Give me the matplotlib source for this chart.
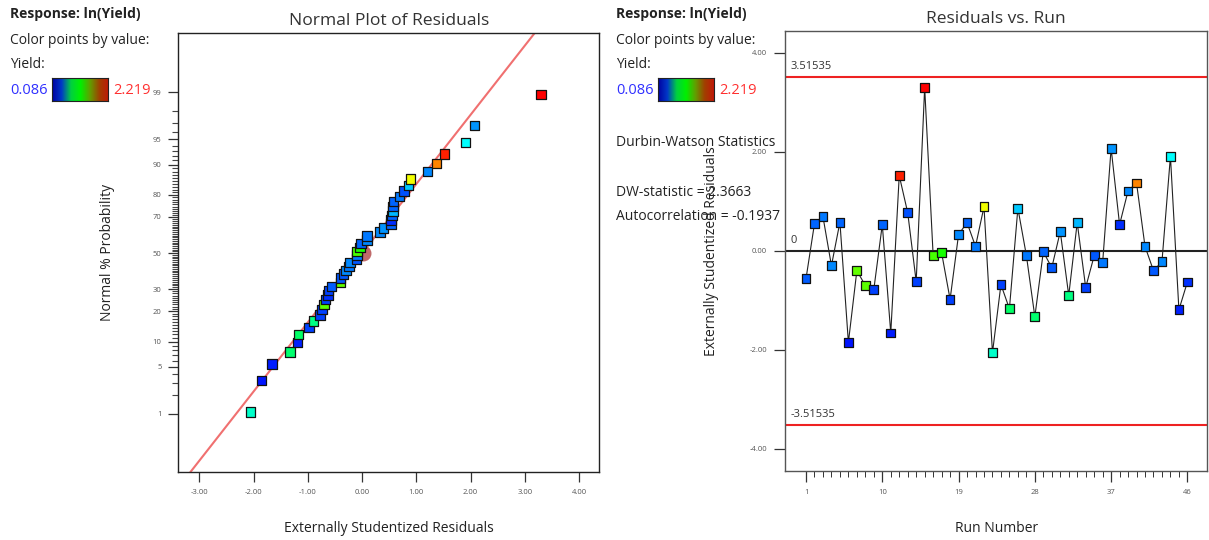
import numpy as np
import matplotlib
matplotlib.use("Agg")
import matplotlib.pyplot as plt
from matplotlib.colors import LinearSegmentedColormap, Normalize
from statistics import NormalDist

plt.rcParams['font.family'] = ['Open Sans', 'DejaVu Sans']

# externally studentized residuals, by run order
runs = np.arange(1, 47)
resid = [-0.56, 0.55, 0.69, -0.30, 0.58, -1.85, -0.40, -0.70, -0.78, 0.53,
         -1.66, 1.52, 0.77, -0.62, 3.30, -0.09, -0.04, -0.98, 0.33, 0.57,
         0.09, 0.89, -2.06, -0.68, -1.17, 0.86, -0.09, -1.33, -0.02, -0.34,
         0.39, -0.90, 0.57, -0.74, -0.10, -0.24, 2.07, 0.53, 1.21, 1.37,
         0.09, -0.40, -0.22, 1.91, -1.19, -0.63]
# yield used to colour the points
yld = [0.28, 0.30, 0.34, 0.37, 0.30, 0.13, 1.36, 1.34, 0.22, 0.30,
       0.15, 2.15, 0.26, 0.22, 2.219, 1.30, 1.20, 0.22, 0.37, 0.30,
       0.34, 1.66, 0.73, 0.22, 0.94, 0.51, 0.34, 0.92, 0.30, 0.27,
       0.40, 0.88, 0.47, 0.22, 0.27, 0.34, 0.40, 0.18, 0.37, 1.94,
       0.37, 0.27, 0.37, 0.62, 0.16, 0.19]
yld_min, yld_max = 0.086, 2.219
limit = 3.51535
dw_stat = 2.3663
autocorr = -0.1937

prob_major = [1, 5, 10, 20, 30, 50, 70, 80, 90, 95, 99]
run_major = [1, 10, 19, 28, 37, 46]
res_ticks = [-3, -2, -1, 0, 1, 2, 3, 4]
run_yticks = [-4, -2, 0, 2, 4]

pt_cmap = LinearSegmentedColormap.from_list(
    'pts', ['#0000ff', '#00ffff', '#00ff00', '#ffff00', '#ff0000'])
bar_cmap = LinearSegmentedColormap.from_list(
    'bar', ['#0000a0', '#0038c8', '#00d040', '#00f000', '#60a000', '#a04000', '#c01808'])
norm = Normalize(yld_min, yld_max)
colors = pt_cmap(norm(np.array(yld)))

nd = NormalDist()
W, H = 1209, 540
fig = plt.figure(figsize=(W / 100, H / 100), dpi=100)

tick_col = '#555555'

# ---------- normal plot ----------
ax1 = fig.add_axes([178.3 / W, 1 - 472.3 / H, 420.7 / W, 439 / H])
order = np.argsort(resid)
n = len(resid)
zq = [nd.inv_cdf((i + 0.5) / n) for i in range(n)]
xs = np.array(resid)[order]
ax1.plot([-4, 4], [-4, 4], color='#f07070', lw=1.5, zorder=1)
ax1.scatter([0.02], [nd.inv_cdf(0.5)], s=110, marker='o', color='#c06a6a', zorder=2)
ax1.scatter(xs, zq, s=46, marker='s', c=colors[order], edgecolors='#111111',
            linewidths=0.9, zorder=3)
ax1.set_xlim(-3.39, 4.37)
ax1.set_ylim(-3.17, 3.18)
ax1.set_xticks(res_ticks)
ax1.set_xticklabels([f'{v:.2f}' for v in res_ticks])
ax1.set_yticks([nd.inv_cdf(p / 100) for p in prob_major])
ax1.set_yticklabels([str(p) for p in prob_major])
ax1.set_yticks([nd.inv_cdf(k / 100) for k in range(2, 99) if k not in prob_major], minor=True)
ax1.tick_params(axis='both', which='major', length=7, width=0.9, color='#333333',
                labelsize=5.5, labelcolor=tick_col, pad=5)
ax1.tick_params(axis='y', which='minor', length=4, width=0.8, color='#444444')
ax1.set_title('Normal Plot of Residuals', fontsize=12.6, color='#333333', pad=6)
ax1.set_xlabel('Externally Studentized Residuals', fontsize=10, color='#222222', labelpad=18)
ax1.set_ylabel('Normal % Probability', fontsize=10, color='#222222', labelpad=27)
for s in ax1.spines.values():
    s.set_color('#222222')
    s.set_linewidth(1.0)

# ---------- residuals vs run ----------
ax2 = fig.add_axes([785 / W, 1 - 470.7 / H, 422.3 / W, 439.7 / H])
ax2.axhline(limit, color='#ee2222', lw=1.5, zorder=1)
ax2.axhline(-limit, color='#ee2222', lw=1.5, zorder=1)
ax2.axhline(0, color='#222222', lw=1.5, zorder=1)
ax2.plot(runs, resid, color='#222222', lw=0.8, zorder=2)
ax2.scatter(runs, resid, s=40, marker='s', c=colors, edgecolors='#111111',
            linewidths=0.9, zorder=3)
ax2.set_xlim(-1.48, 48.35)
ax2.set_ylim(-4.44, 4.44)
ax2.text(0.012, limit + 0.1, f'{limit:.5f}', transform=ax2.get_yaxis_transform(),
         fontsize=8, color='#333333', va='bottom')
ax2.text(0.012, -limit + 0.1, f'{-limit:.5f}', transform=ax2.get_yaxis_transform(),
         fontsize=8, color='#333333', va='bottom')
ax2.text(0.012, 0.1, '0', transform=ax2.get_yaxis_transform(),
         fontsize=8, color='#333333', va='bottom')
ax2.set_xticks(run_major)
ax2.set_xticks(runs, minor=True)
ax2.set_yticks(run_yticks)
ax2.set_yticklabels([f'{v:.2f}' for v in run_yticks])
ax2.tick_params(axis='both', which='major', length=8, width=0.9, color='#333333',
                labelsize=5.5, labelcolor=tick_col, pad=5)
ax2.tick_params(axis='x', which='minor', length=4, width=0.7, color='#333333')
ax2.set_title('Residuals vs. Run', fontsize=12.5, color='#333333', pad=6)
ax2.set_xlabel('Run Number', fontsize=10, color='#222222', labelpad=18)
ax2.set_ylabel('Externally Studentized Residuals', fontsize=10, color='#222222', labelpad=22)
for s in ax2.spines.values():
    s.set_color('#555555')
    s.set_linewidth(1.0)

# ---------- side legends ----------
grad = np.linspace(0, 1, 256).reshape(1, -1)
for x0 in (10, 616):
    fig.text(x0 / W, 1 - 14 / H, 'Response: ln(Yield)', fontsize=10, weight='bold',
             color='#222222', va='center')
    fig.text(x0 / W, 1 - 40 / H, 'Color points by value:', fontsize=10,
             color='#222222', va='center')
    fig.text(x0 / W, 1 - 64 / H, 'Yield:', fontsize=10, color='#222222', va='center')
    fig.text(x0 / W, 1 - 90 / H, f'{yld_min:.3f}', fontsize=10.5, color='#3030ff', va='center')
    cax = fig.add_axes([(x0 + 42) / W, 1 - 101 / H, 56 / W, 23 / H])
    cax.imshow(grad, aspect='auto', cmap=bar_cmap)
    cax.set_xticks([])
    cax.set_yticks([])
    for s in cax.spines.values():
        s.set_color('#222222')
    fig.text((x0 + 103) / W, 1 - 90 / H, f'{yld_max:.3f}', fontsize=10.5, color='#ff3030',
             va='center')

fig.text(616 / W, 1 - 142 / H, 'Durbin-Watson Statistics', fontsize=10, color='#222222',
         va='center')
fig.text(616 / W, 1 - 192 / H, f'DW-statistic = {dw_stat:.4f}', fontsize=10,
         color='#222222', va='center')
fig.text(616 / W, 1 - 217 / H, f'Autocorrelation = {autocorr:.4f}', fontsize=10,
         color='#222222', va='center')

fig.savefig('out.png', dpi=100)
